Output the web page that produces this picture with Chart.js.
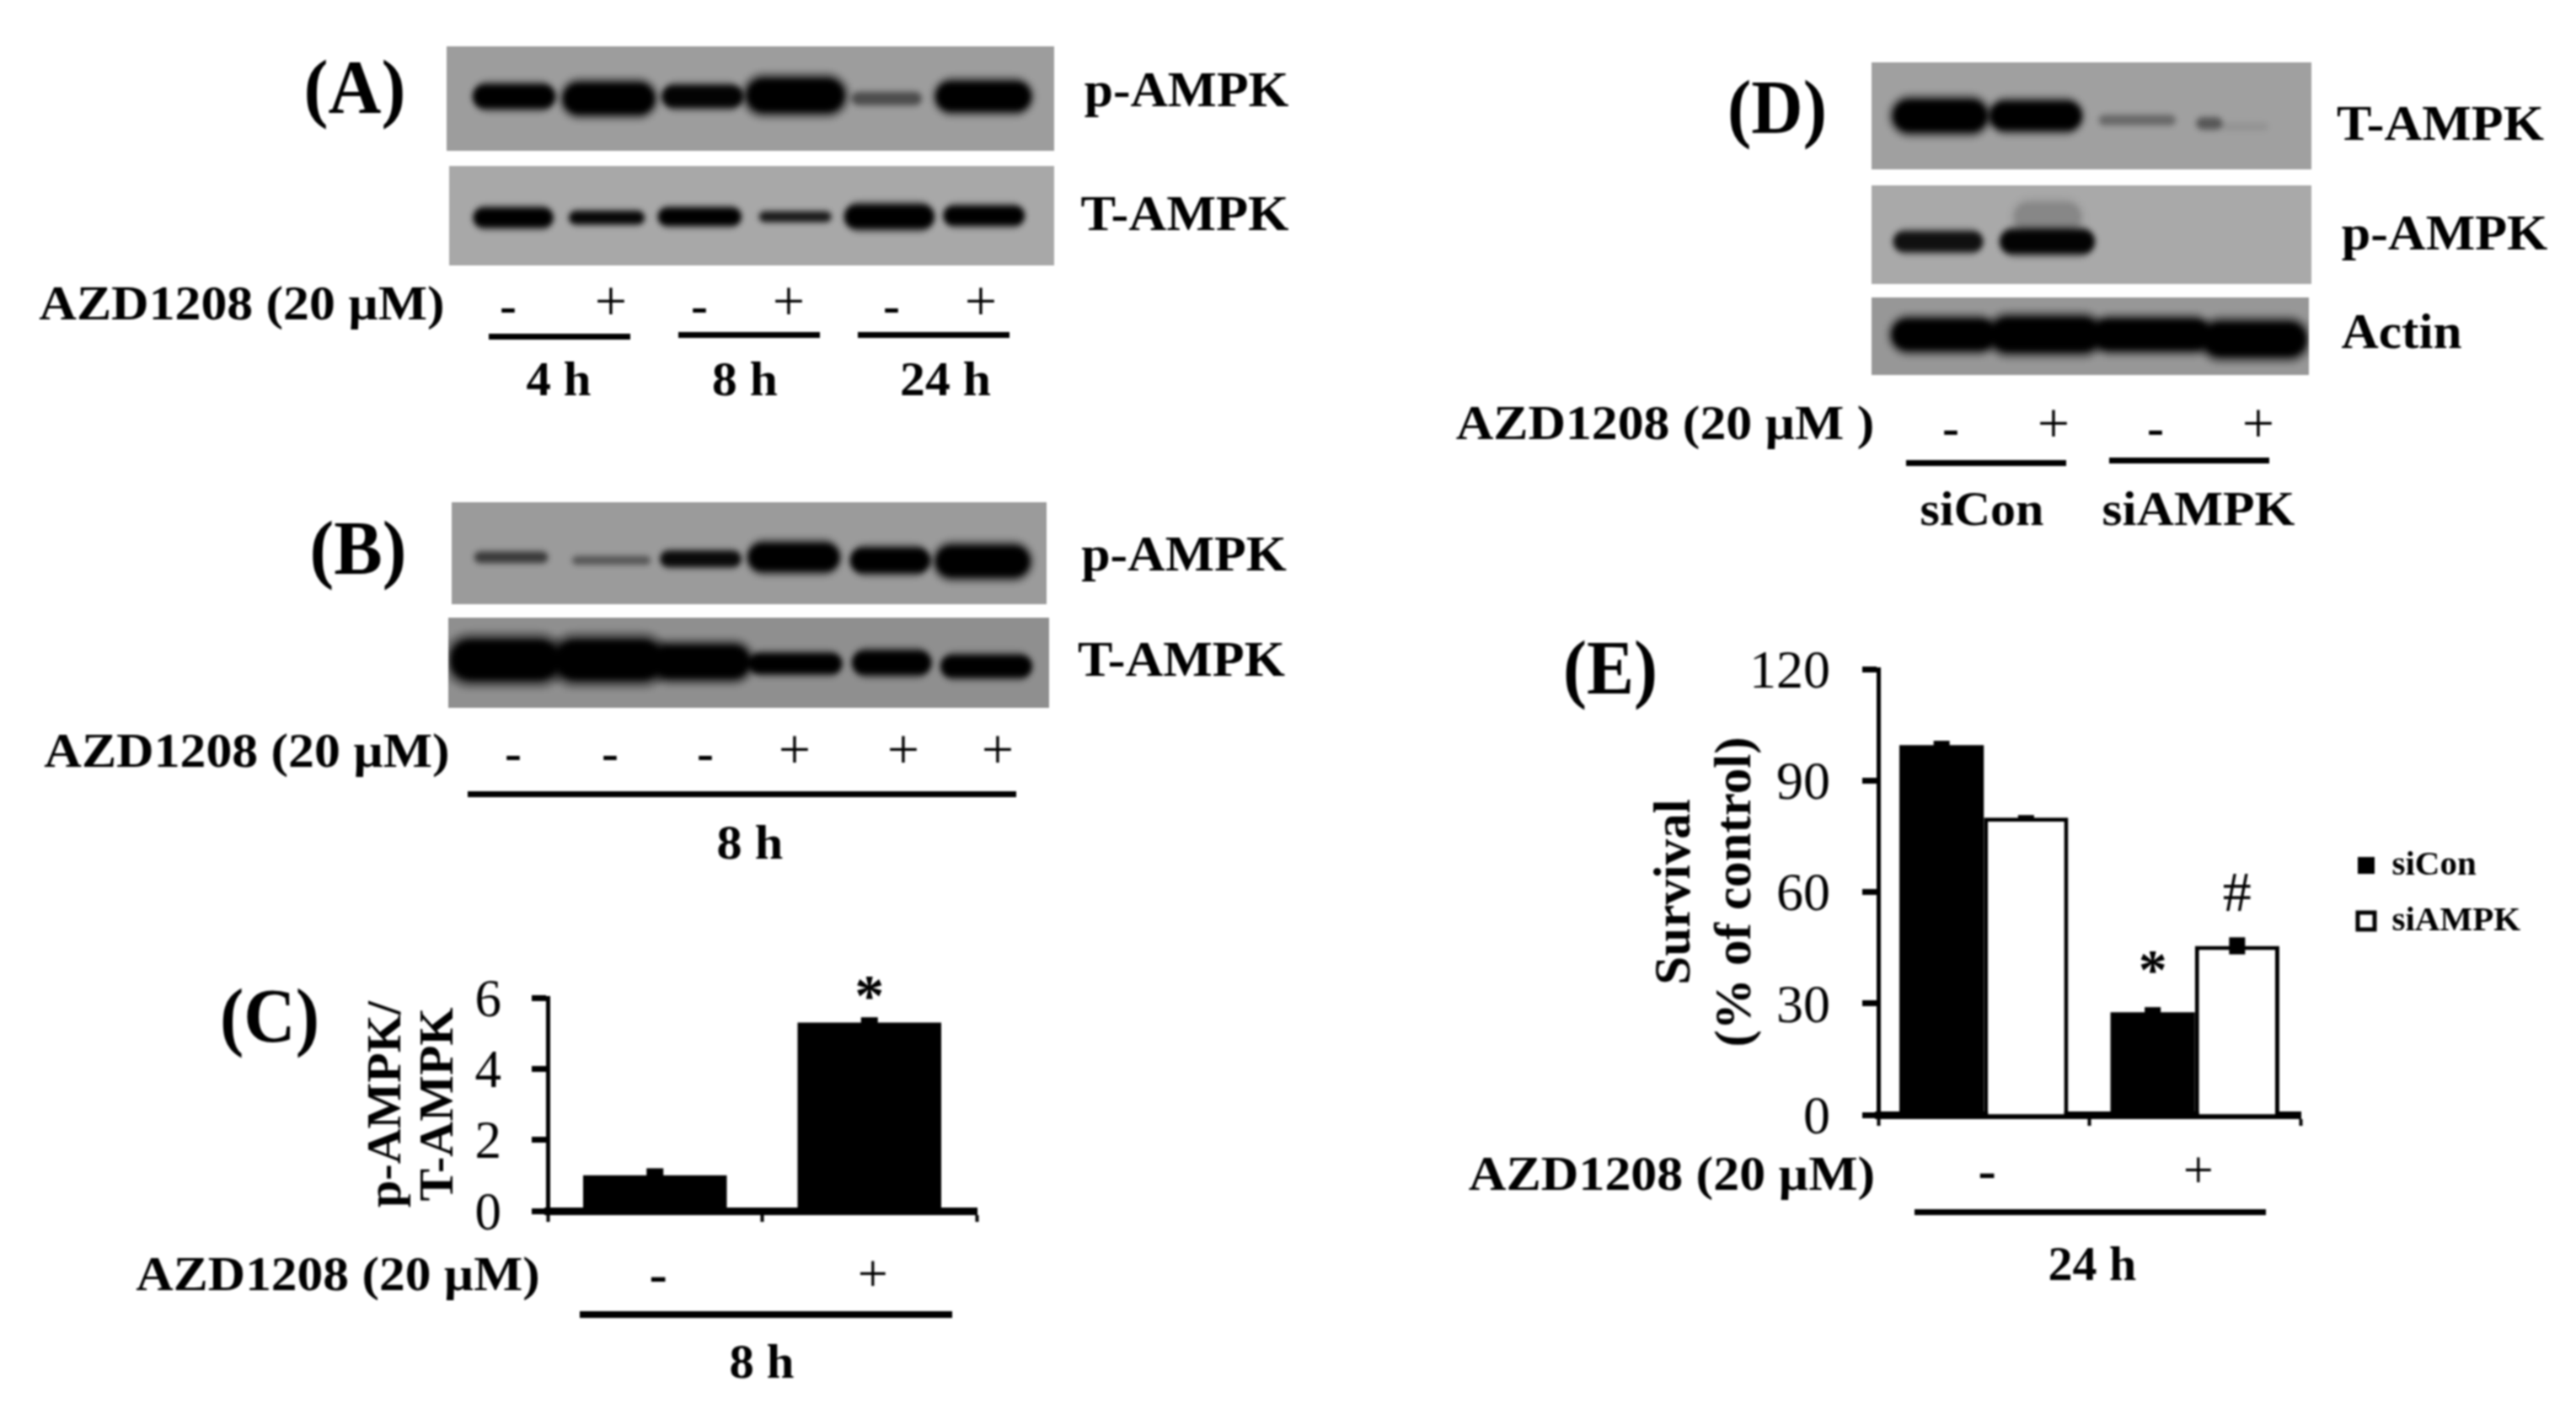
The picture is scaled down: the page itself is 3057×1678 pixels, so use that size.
<!DOCTYPE html>
<html><head><meta charset="utf-8">
<script src="https://cdn.jsdelivr.net/npm/chart.js@4"></script>
<style>
html,body{margin:0;padding:0;background:#fff}
#stage{position:relative;width:3057px;height:1678px;overflow:hidden;background:#fff;filter:blur(1px)}
.t{position:absolute;white-space:pre;line-height:1;color:#000;font-family:"Liberation Serif";font-weight:bold;transform-origin:center}
.r{position:absolute;background:#000}
.blot{position:absolute;overflow:hidden}
.blot canvas{filter:blur(3px)}
canvas.c{position:absolute}
</style></head><body><div id="stage"></div>
<script>
// ---------- bar chart data ----------
const panelCCategories = ['-', '+'];
const panelCValues = [1.0, 5.3];
const panelCErrors = [0.2, 0.15];
const panelCNotes = ['', '*'];
const panelCTicks = [0, 2, 4, 6];

const panelECategories = ['-', '+'];
const panelESeriesNames = ['siCon', 'siAMPK'];
const panelESiCon = [99.5, 27.6];
const panelESiAMPK = [80, 45.5];
const panelESiConErrors = [1.2, 1.4];
const panelESiAMPKErrors = [0.7, 2.3];
const panelENotesSiCon = ['', '*'];
const panelENotesSiAMPK = ['', '#'];
const panelETicks = [0, 30, 60, 90, 120];

// ---------- blot band data: lane extent and level in % of the membrane, band thickness, darkness ----------
const aTopStart = [4.7, 19.7, 35.8, 50, 66.9, 81];
const aTopEnd   = [17.5, 33.7, 48.4, 64.8, 78, 95.7];
const aTopLevel = [48, 50, 48, 47, 50, 48];
const aTopThick = [26, 35, 24, 38, 14, 33];
const aTopDark  = [1, 1, .95, 1, .35, 1];

const aLowStart = [4.3, 20, 34.8, 51.4, 65.7, 82];
const aLowEnd   = [16.9, 32.1, 48, 63, 79.8, 94.8];
const aLowLevel = [52, 52, 51, 51, 51, 50];
const aLowThick = [21, 14, 19, 11, 26, 21];
const aLowDark  = [1, .9, 1, .72, 1, 1];

const bTopStart = [4, 20.4, 35.3, 50.3, 67.4, 81.9];
const bTopEnd   = [16, 33.3, 48.4, 64.7, 80, 96.6];
const bTopLevel = [54, 57, 55.6, 54, 57, 58];
const bTopThick = [12, 9, 17, 31, 27, 35];
const bTopDark  = [.45, .3, .85, 1, 1, 1];

const bLowStart = [1.4, 18.8, 34.6, 50.4, 67.6, 82.3];
const bLowEnd   = [17.4, 34.6, 49.6, 65.2, 80, 96.8];
const bLowLevel = [47, 47, 49, 51, 50, 54];
const bLowThick = [46, 46, 38, 22, 26, 24];
const bLowDark  = [1, 1, 1, 1, 1, 1];

const dTotStart = [5.7, 27.6, 51.9, 74.1, 79.5];
const dTotEnd   = [25.5, 47.1, 68.9, 79.5, 90];
const dTotLevel = [50, 50, 54, 57, 60];
const dTotThick = [36, 32, 11, 13, 8];
const dTotDark  = [1, 1, .22, .3, .05];

const dPhoStart = [5.4, 29.7, 33];
const dPhoEnd   = [24.9, 50.2, 47];
const dPhoLevel = [57, 57, 32];
const dPhoThick = [22, 26, 34];
const dPhoDark  = [.8, .95, .12];

const dActStart = [5.4, 28.1, 51.4, 76.7];
const dActEnd   = [27.6, 51.4, 76.7, 98.5];
const dActLevel = [48, 48, 48, 54];
const dActThick = [35, 39, 35, 39];
const dActDark  = [1, 1, 1, 1];

// ---------- page ----------
const stage = document.getElementById('stage');
const FAMILY = "'Liberation Serif'";
const el = (cls, css) => { const d = document.createElement('div'); d.className = cls; Object.assign(d.style, css); stage.appendChild(d); return d; };

function text(str, cx, cy, size, width, weight) {
  const d = el('t', {left: cx + 'px', top: cy + 'px', fontSize: size + 'px', fontWeight: weight || 'bold'});
  d.textContent = str;
  const s = width ? width / d.offsetWidth : 1;
  d.style.transform = `translate(-50%,-50%) scaleX(${s})`;
}
const rule = (x0, x1, y, h) => el('r', {left: x0 + 'px', width: (x1 - x0) + 'px', top: (y - h / 2) + 'px', height: h + 'px'});
const minus = (x, y) => text('-', x, y, 60, 20);
const plus = (x, y) => text('+', x, y, 68, 0, 'normal');

function blot(x, y, w, h, bg, start, end, level, thick, dark) {
  const box = el('blot', {left: x + 'px', top: y + 'px', width: w + 'px', height: h + 'px', background: bg});
  const cv = document.createElement('canvas');
  cv.width = w; cv.height = h; cv.style.width = w + 'px'; cv.style.height = h + 'px';
  box.appendChild(cv);
  const datasets = [];
  start.forEach((s, i) => {
    const seg = (t, a) => {
      const inset = Math.min(t / 2 * 0.8, 16) / w * 100;
      datasets.push({
        data: [{x: s + inset, y: level[i]}, {x: end[i] - inset, y: level[i]}],
        borderWidth: t, borderColor: `rgba(0,0,0,${a})`, borderCapStyle: 'round', pointRadius: 0
      });
    };
    seg(thick[i] * 1.5, dark[i] * .28);
    seg(thick[i] * 1.2, dark[i] * .5);
    seg(thick[i], dark[i]);
  });
  new Chart(cv, {
    type: 'line', data: {datasets},
    options: {
      responsive: false, animation: false, events: [],
      layout: {padding: 0},
      plugins: {legend: {display: false}, tooltip: {enabled: false}},
      scales: {
        x: {type: 'linear', min: 0, max: 100, display: false},
        y: {type: 'linear', min: 0, max: 100, reverse: true, display: false}
      }
    }
  });
}

// error bars and significance marks, placed through the chart's scales
const marksPlugin = {
  id: 'marks',
  afterDatasetsDraw(chart, _a, opts) {
    const {ctx, scales: {y}} = chart;
    chart.data.datasets.forEach((ds, i) => {
      const bars = chart.getDatasetMeta(i).data;
      const errs = opts.errors[i], notes = opts.notes[i], nf = opts.noteFonts[i], off = opts.noteOffsets[i];
      bars.forEach((b, j) => {
        ctx.save();
        ctx.strokeStyle = '#000'; ctx.lineWidth = opts.errorWidth;
        ctx.beginPath();
        ctx.moveTo(b.x, y.getPixelForValue(ds.data[j] + errs[j]));
        ctx.lineTo(b.x, y.getPixelForValue(ds.data[j] - errs[j]));
        ctx.stroke();
        if (notes[j]) {
          ctx.fillStyle = '#000'; ctx.textAlign = 'center'; ctx.textBaseline = 'alphabetic';
          ctx.font = nf;
          ctx.fillText(notes[j], b.x, y.getPixelForValue(ds.data[j]) - off);
        }
        ctx.restore();
      });
    });
  }
};
const legendShift = {
  id: 'legendShift',
  afterLayout(chart, _a, opts) {
    if (chart.legend) {
      chart.legend.left += opts.dx; chart.legend.right += opts.dx;
      chart.legend.top += opts.dy; chart.legend.bottom += opts.dy;
    }
  }
};

function barChart(cfg) {
  const cv = document.createElement('canvas');
  cv.className = 'c';
  cv.width = cfg.w; cv.height = cfg.h;
  Object.assign(cv.style, {left: cfg.x + 'px', top: cfg.y + 'px', width: cfg.w + 'px', height: cfg.h + 'px'});
  stage.appendChild(cv);
  const chart = new Chart(cv, {
    type: 'bar',
    plugins: [marksPlugin, legendShift],
    data: {labels: cfg.labels, datasets: cfg.datasets},
    options: {
      responsive: false, animation: false, events: [],
      categoryPercentage: cfg.catPct, barPercentage: cfg.barPct,
      layout: {padding: {top: cfg.padTop, right: cfg.padRight || 0, left: 0, bottom: 0}},
      plugins: {
        tooltip: {enabled: false},
        legend: cfg.legend || {display: false},
        marks: cfg.marks,
        legendShift: {dx: cfg.legendDx || 0, dy: cfg.legendDy || 0}
      },
      scales: {
        x: {
          type: 'category', offset: true,
          afterFit: s => { s.height = cfg.xHeight; },
          border: {display: true, width: 9, color: '#000'},
          grid: {offset: true, drawOnChartArea: false, drawTicks: true, tickLength: 13, tickWidth: 4, tickColor: '#000'},
          ticks: {
            color: '#000', padding: cfg.xPad, maxRotation: 0, autoSkip: false, labelOffset: 4,
            font: c => ({family: FAMILY, size: 64, weight: c.tick && c.tick.label === '-' ? 'bold' : 'normal'})
          }
        },
        y: {
          type: 'linear', min: cfg.ticks[0], max: cfg.ticks[cfg.ticks.length - 1],
          afterFit: s => { s.width = cfg.yWidth; },
          afterBuildTicks: s => { s.ticks = cfg.ticks.map(v => ({value: v})); },
          border: {display: true, width: 5, color: '#000'},
          grid: {drawOnChartArea: false, drawTicks: true, tickLength: 19, tickWidth: 7, tickColor: '#000'},
          ticks: {color: '#000', padding: cfg.yPad, labelOffset: 5, font: {family: FAMILY, size: cfg.tickSize, weight: 'normal'}},
          title: {
            display: true, text: cfg.title, color: '#000', padding: {top: cfg.titlePad, bottom: 0},
            font: {family: FAMILY, size: cfg.titleSize, weight: 'bold', lineHeight: cfg.titleLine}
          }
        }
      }
    }
  });
  return chart;
}

// Panel A
text('(A)', 421, 104, 90, 121);
blot(530, 55, 721, 124, '#9d9d9d', aTopStart, aTopEnd, aTopLevel, aTopThick, aTopDark);
blot(533, 197, 718, 118, '#a8a8a8', aLowStart, aLowEnd, aLowLevel, aLowThick, aLowDark);
text('p-AMPK', 1408, 106, 60, 243);
text('T-AMPK', 1406, 253, 60, 247);
text('AZD1208 (20 µM)', 287, 360, 58, 481);
[603, 830, 1058].forEach(x => minus(x, 362));
[725, 936, 1164].forEach(x => plus(x, 357));
rule(580, 748, 399, 7); rule(805, 973, 397, 7); rule(1018, 1198, 397, 7);
text('4 h', 663, 450, 58, 77); text('8 h', 884, 450, 58, 78); text('24 h', 1122, 450, 58, 108);

// Panel B
text('(B)', 425, 651, 90, 115);
blot(536, 596, 706, 121, '#9b9b9b', bTopStart, bTopEnd, bTopLevel, bTopThick, bTopDark);
blot(532, 733, 713, 107, '#8f8f8f', bLowStart, bLowEnd, bLowLevel, bLowThick, bLowDark);
text('p-AMPK', 1405, 657, 60, 244);
text('T-AMPK', 1402, 782, 60, 246);
text('AZD1208 (20 µM)', 293, 891, 58, 481);
[609, 724, 837].forEach(x => minus(x, 893));
[943, 1072, 1184].forEach(x => plus(x, 889));
rule(555, 1206, 942, 7);
text('8 h', 890, 1000, 58, 79);

// Panel C
text('(C)', 320, 1206, 90, 118);
barChart({
  x: 400, y: 1100, w: 780, h: 460, padTop: 84, padRight: 21, xHeight: 123, yWidth: 250, xPad: 28, yPad: 36,
  tickSize: 63, catPct: 1, barPct: 0.67, ticks: panelCTicks,
  title: ['p-AMPK/', 'T-AMPK'], titleSize: 58, titleLine: 1.07, titlePad: 29,
  labels: panelCCategories,
  datasets: [{data: panelCValues, backgroundColor: '#000', borderColor: '#000', borderWidth: 0}],
  marks: {errors: [panelCErrors], notes: [panelCNotes], noteFonts: [`bold 70px ${FAMILY}`], noteOffsets: [9], errorWidth: 20}
});
text('AZD1208 (20 µM)', 401, 1512, 58, 479);
rule(688, 1130, 1560, 8);
text('8 h', 904, 1616, 58, 77);

// Panel D
text('(D)', 2109, 128, 90, 118);
blot(2221, 74, 522, 127, '#a0a0a0', dTotStart, dTotEnd, dTotLevel, dTotThick, dTotDark);
blot(2221, 220, 522, 117, '#a9a9a9', dPhoStart, dPhoEnd, dPhoLevel, dPhoThick, dPhoDark);
blot(2221, 353, 519, 92, '#979797', dActStart, dActEnd, dActLevel, dActThick, dActDark);
text('T-AMPK', 2896, 146, 60, 246);
text('p-AMPK', 2901, 276, 60, 245);
text('Actin', 2850, 393, 60, 143);
text('AZD1208 (20 µM )', 1976, 502, 58, 497);
[2315, 2558].forEach(x => minus(x, 507));
[2437, 2680].forEach(x => plus(x, 502));
rule(2262, 2452, 549, 7); rule(2503, 2693, 546, 7);
text('siCon', 2352, 604, 58, 147);
text('siAMPK', 2609, 604, 58, 229);

// Panel E
text('(E)', 1911, 793, 90, 112);
const chartE = barChart({
  x: 1900, y: 640, w: 1157, h: 838, padTop: 154, xHeight: 155, yWidth: 329, xPad: 19, yPad: 38,
  tickSize: 64, catPct: 0.8, barPct: 1, ticks: panelETicks,
  title: ['Survival', '(% of control)'], titleSize: 61, titleLine: 1.18, titlePad: 53,
  labels: panelECategories,
  datasets: [
    {label: panelESeriesNames[0], data: panelESiCon, backgroundColor: '#000', borderColor: '#000', borderWidth: 0},
    {label: panelESeriesNames[1], data: panelESiAMPK, backgroundColor: '#fff', borderColor: '#000', borderWidth: 5}
  ],
  legendDx: 43, legendDy: -76,
  legend: {
    display: true, position: 'right', align: 'center',
    labels: {color: '#000', boxWidth: 20, boxHeight: 20, padding: 25, font: {family: FAMILY, size: 41, weight: 'bold', lineHeight: 1.45}}
  },
  marks: {
    errors: [panelESiConErrors, panelESiAMPKErrors],
    notes: [panelENotesSiCon, panelENotesSiAMPK],
    noteFonts: [`bold 68px ${FAMILY}`, `normal 68px ${FAMILY}`],
    noteOffsets: [28, 41], errorWidth: 19
  }
});
chartE.options.layout.padding.right = chartE.chartArea.right - (2730 - 1900);
chartE.update();
text('AZD1208 (20 µM)', 1984, 1393, 58, 482);
rule(2272, 2689, 1438, 7);
text('24 h', 2483, 1500, 58, 105);
</script></body></html>
